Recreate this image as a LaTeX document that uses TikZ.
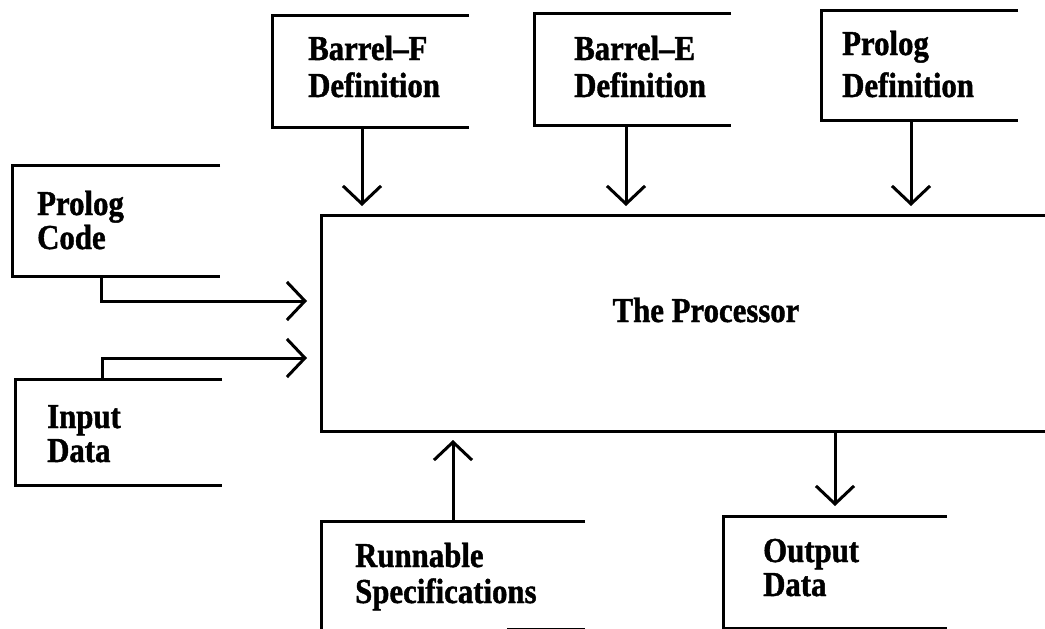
\documentclass[tikz,border=0pt]{standalone}
\usepackage{fontspec}
\setmainfont[FakeStretch=0.88,BoldFeatures={FakeBold=1.2}]{Liberation Serif}
\usetikzlibrary{arrows.meta}
\newcommand\twolines[3][36pt]{\vtop{\baselineskip=#1\hbox{#2}\hbox{#3}}}
\begin{document}
\begin{tikzpicture}[x=1pt,y=-1pt,
  box/.style={rectangle, draw=none, inner sep=0pt, outer sep=0pt},
  lbl/.style={anchor=base west, inner sep=0pt, font=\fontsize{35}{38}\selectfont\bfseries},
  frame/.style={line width=3pt},
  arr/.style={line width=3pt, -{Straight Barb[length=18pt,width=38pt]}}]
\useasboundingbox (0,0) rectangle (1045,629);
\clip (0,0) rectangle (1045,629);
% boxes
\node[box, minimum width=197pt, minimum height=112pt] (bf) at (370.5,71) {};
\node[box, minimum width=197pt, minimum height=112pt] (be) at (632.5,69) {};
\node[box, minimum width=197pt, minimum height=110pt] (pd) at (919.5,65) {};
\node[box, minimum width=208pt, minimum height=111pt] (pc) at (116,220.5) {};
\node[box, minimum width=207pt, minimum height=106pt] (id) at (118.5,432) {};
\node[box, minimum width=739pt, minimum height=216pt] (proc) at (690.5,323) {};
\node[box, minimum width=264pt, minimum height=107.5pt] (rs) at (453,574.75) {};
\node[box, minimum width=224pt, minimum height=112pt] (od) at (835,572) {};
% frames (open on the right)
\foreach \n in {bf,be,pd,pc,id,proc,od}
  \draw[frame] (\n.north east) -| (\n.west) |- (\n.south east);
\draw[frame] (rs.north east) -| (rs.south west);
\draw[line width=1.5pt] ([xshift=-78pt]rs.south east) -- (rs.south east);
% labels
\node[lbl] (bft) at (308,60) {\twolines[37pt]{Barrel--F}{Definition}};
\node[lbl] (bet) at (574,60) {\twolines[37pt]{Barrel--E}{Definition}};
\node[lbl] (pdt) at (842,55) {\twolines[42pt]{Prolog}{Definition}};
\node[lbl] (pct) at (37,215) {\twolines[34pt]{Prolog}{Code}};
\node[lbl] (idt) at (47,428) {\twolines[34pt]{Input}{Data}};
\node[lbl] (rst) at (355,567) {\twolines[36pt]{Runnable}{Specifications}};
\node[lbl] (odt) at (763,562) {\twolines[34pt]{Output}{Data}};
\node[lbl, anchor=base] (pt) at (706,322) {The Processor};
% connectors
\coordinate (bfo) at ([xshift=-8.5pt]bf.south);
\coordinate (beo) at ([xshift=-6.5pt]be.south);
\coordinate (pdo) at ([xshift=-8.5pt]pd.south);
\draw[arr, shorten >=9pt] (bfo) -- (bfo |- proc.north);
\draw[arr, shorten >=9pt] (beo) -- (beo |- proc.north);
\draw[arr, shorten >=9pt] (pdo) -- (pdo |- proc.north);
\coordinate (pco) at ([xshift=-15pt]pc.south);
\coordinate (ido) at ([xshift=-16.5pt]id.north);
\draw[arr, shorten >=14pt] (pco) |- ([yshift=22pt]proc.west);
\draw[arr, shorten >=14pt] (ido) |- ([yshift=-35pt]proc.west);
\draw[arr, shorten >=9pt] (rs.north) -- (rs.north |- proc.south);
\draw[arr, shorten >=10pt] (od.north |- proc.south) -- (od.north);
\end{tikzpicture}
\end{document}
